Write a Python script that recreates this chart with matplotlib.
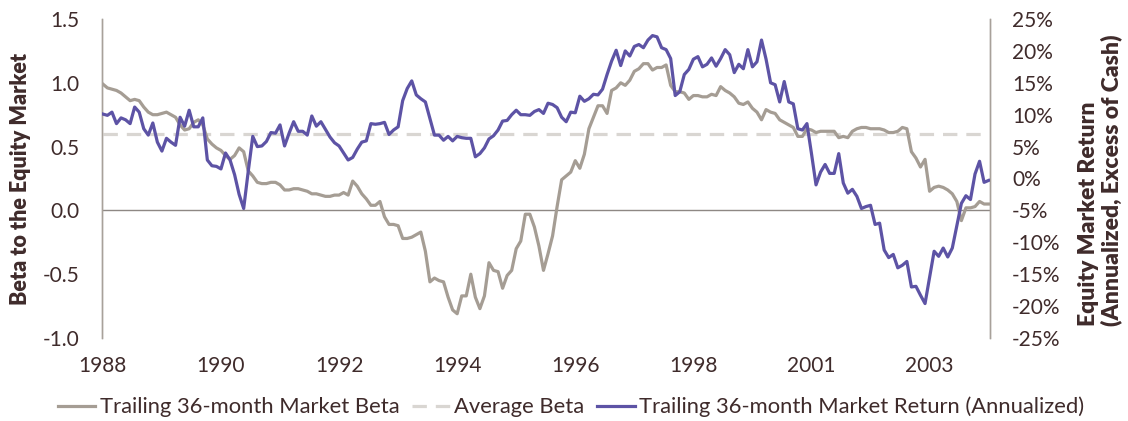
import matplotlib
matplotlib.use("Agg")
import matplotlib.pyplot as plt
import pandas as pd
from matplotlib import font_manager

# ---------------- data ----------------
months = pd.date_range("1988-01-01", periods=196, freq="MS")

beta = [
    0.99, 0.96, 0.95, 0.94, 0.92, 0.89, 0.86, 0.87, 0.86, 0.81,
    0.77, 0.75, 0.75, 0.76, 0.77, 0.75, 0.73, 0.67, 0.63, 0.64,
    0.69, 0.71, 0.67, 0.56, 0.52, 0.49, 0.47, 0.43, 0.40, 0.43,
    0.49, 0.46, 0.31, 0.27, 0.22, 0.21, 0.21, 0.22, 0.22, 0.20,
    0.16, 0.16, 0.17, 0.17, 0.16, 0.15, 0.13, 0.13, 0.12, 0.11,
    0.11, 0.12, 0.12, 0.14, 0.12, 0.23, 0.19, 0.13, 0.09, 0.04,
    0.04, 0.07, -0.05, -0.11, -0.11, -0.12, -0.22, -0.22, -0.21, -0.19,
    -0.17, -0.32, -0.56, -0.53, -0.55, -0.56, -0.68, -0.78, -0.81, -0.67,
    -0.67, -0.50, -0.68, -0.77, -0.67, -0.41, -0.47, -0.48, -0.61, -0.51,
    -0.47, -0.30, -0.24, -0.03, -0.03, -0.13, -0.28, -0.47, -0.34, -0.20,
    0.03, 0.24, 0.27, 0.30, 0.39, 0.33, 0.44, 0.64, 0.73, 0.82,
    0.82, 0.76, 0.94, 0.96, 1.00, 0.98, 1.02, 1.09, 1.11, 1.15,
    1.15, 1.10, 1.12, 1.12, 1.14, 0.98, 0.93, 0.93, 0.92, 0.87,
    0.90, 0.90, 0.89, 0.89, 0.91, 0.90, 0.97, 0.94, 0.92, 0.89,
    0.84, 0.83, 0.85, 0.80, 0.77, 0.71, 0.79, 0.77, 0.76, 0.71,
    0.69, 0.67, 0.65, 0.58, 0.58, 0.64, 0.63, 0.61, 0.62, 0.62,
    0.62, 0.62, 0.57, 0.58, 0.57, 0.62, 0.64, 0.65, 0.65, 0.64,
    0.64, 0.64, 0.63, 0.61, 0.61, 0.62, 0.65, 0.64, 0.46, 0.41,
    0.34, 0.40, 0.15, 0.18, 0.19, 0.18, 0.16, 0.13, 0.07, -0.08,
    0.02, 0.02, 0.03, 0.07, 0.05, 0.05,
]

market_return = [
    10.1, 9.9, 10.4, 8.6, 9.5, 9.2, 8.6, 11.2, 10.4, 7.8,
    6.8, 8.7, 5.7, 4.3, 6.3, 5.7, 5.2, 9.6, 8.2, 10.7,
    8.1, 8.1, 9.5, 2.9, 2.0, 1.9, 1.5, 4.0, 2.9, 0.6,
    -2.5, -4.7, 1.1, 6.6, 5.0, 5.1, 5.8, 7.2, 7.1, 8.4,
    5.1, 7.1, 8.9, 7.4, 7.4, 6.8, 9.8, 8.2, 8.9, 7.7,
    6.5, 5.6, 5.1, 4.0, 2.9, 3.3, 4.6, 5.7, 5.9, 8.6,
    8.5, 8.6, 8.8, 6.9, 7.6, 8.1, 12.2, 14.1, 15.3, 13.1,
    12.5, 12.0, 9.4, 6.8, 6.8, 6.0, 6.6, 5.9, 6.6, 6.4,
    6.3, 6.3, 3.4, 3.9, 4.8, 6.2, 6.7, 7.6, 9.0, 9.1,
    10.0, 10.7, 10.0, 10.0, 9.9, 10.5, 10.8, 10.2, 11.8, 11.6,
    11.1, 9.6, 8.9, 10.4, 10.3, 12.9, 12.1, 12.5, 13.2, 13.1,
    14.0, 16.3, 18.4, 20.1, 17.7, 20.0, 19.2, 20.7, 21.0, 20.5,
    21.7, 22.4, 22.2, 20.5, 20.2, 18.8, 13.0, 13.6, 16.3, 17.1,
    18.7, 19.1, 17.5, 17.9, 18.9, 17.6, 18.8, 20.2, 19.4, 16.6,
    17.9, 17.2, 20.2, 17.5, 18.3, 21.7, 18.7, 15.0, 14.7, 12.0,
    15.2, 12.0, 11.7, 7.8, 7.6, 8.6, 3.9, -1.0, 1.0, 2.2,
    0.8, 0.8, 3.9, -0.7, -2.3, -1.7, -2.8, -4.7, -4.4, -4.2,
    -7.2, -7.0, -11.2, -12.4, -11.9, -14.0, -13.6, -13.0, -17.0, -16.9,
    -18.3, -19.6, -15.5, -11.4, -12.2, -10.9, -12.3, -10.9, -7.4, -3.9,
    -2.7, -3.3, 0.7, 2.7, -0.6, -0.3,
]

average_beta = 0.60

tick_index = [0, 26, 52, 78, 104, 130, 156, 182]
tick_labels = ["1988", "1990", "1992", "1994", "1996", "1998", "2001", "2003"]

left_ticks = [-1.0, -0.5, 0.0, 0.5, 1.0, 1.5]
right_ticks = [-25, -20, -15, -10, -5, 0, 5, 10, 15, 20, 25]

# ---------------- style ----------------
available = {f.name for f in font_manager.fontManager.ttflist}
base_font = "Lato" if "Lato" in available else "Liberation Sans"
plt.rcParams["font.family"] = [base_font, "DejaVu Sans"]

TEXT = "#3F2B2B"
GRAY = "#A59D94"
PURPLE = "#5D53A5"
DASH = "#D9D6D2"
SPINE = "#A8A19A"
ZERO = "#8E8884"

fig = plt.figure(figsize=(11.28, 4.21), dpi=100)
ax = fig.add_axes([101.5 / 1128, 1 - 338 / 421, (990 - 101.5) / 1128, (338 - 19) / 421])
ax2 = ax.twinx()

x = list(range(len(months)))

ax.axhline(0, color=ZERO, lw=1.0, zorder=1)
l_avg = ax.plot(x, [average_beta] * len(x), color=DASH, lw=2.3, dashes=(4.5, 2.8),
                zorder=2, label="Average Beta")[0]
l_beta = ax.plot(x, beta, color=GRAY, lw=2.3, zorder=3,
                 label="Trailing 36-month Market Beta")[0]
l_ret = ax2.plot(x, market_return, color=PURPLE, lw=2.3, zorder=3,
                 label="Trailing 36-month Market Return (Annualized)")[0]

ax.set_xlim(-0.3, len(x) - 0.7)
ax.set_ylim(-1.0, 1.5)
ax2.set_ylim(-25, 25)

ax.set_yticks(left_ticks)
ax.set_yticklabels([f"{v:.1f}" for v in left_ticks])
ax2.set_yticks(right_ticks)
ax2.set_yticklabels([f"{v}%" for v in right_ticks])
ax.set_xticks(tick_index)
ax.set_xticklabels(tick_labels)

for a in (ax, ax2):
    for s in ("top", "bottom"):
        a.spines[s].set_visible(False)
    a.spines["left"].set_color(SPINE)
    a.spines["right"].set_color(SPINE)
    a.spines["left"].set_linewidth(1.0)
    a.spines["right"].set_linewidth(1.0)

ax.tick_params(axis="y", length=0, pad=16, labelsize=15, labelcolor=TEXT)
ax.tick_params(axis="x", length=0, pad=13, labelsize=15, labelcolor=TEXT)
ax2.tick_params(axis="y", length=0, pad=16, labelsize=15, labelcolor=TEXT)

fig.text(21 / 1128, 1 - 178.5 / 421, "Beta to the Equity Market", rotation=90,
         ha="center", va="center", fontsize=15.5, fontweight="heavy", color=TEXT)
fig.text(1100 / 1128, 1 - 180 / 421, "Equity Market Return\n(Annualized, Excess of Cash)",
         rotation=90, ha="center", va="center", multialignment="left",
         fontsize=16.5, fontweight="heavy", color=TEXT, linespacing=1.1)

leg = fig.legend(handles=[l_beta, l_avg, l_ret], loc="center",
                 bbox_to_anchor=(571 / 1128, 1 - 407 / 421), ncol=3, frameon=False,
                 fontsize=15.8, handlelength=1.7, handletextpad=0.2, columnspacing=0.6,
                 borderaxespad=0)
for t in leg.get_texts():
    t.set_color(TEXT)

fig.savefig("out.png", dpi=100)
